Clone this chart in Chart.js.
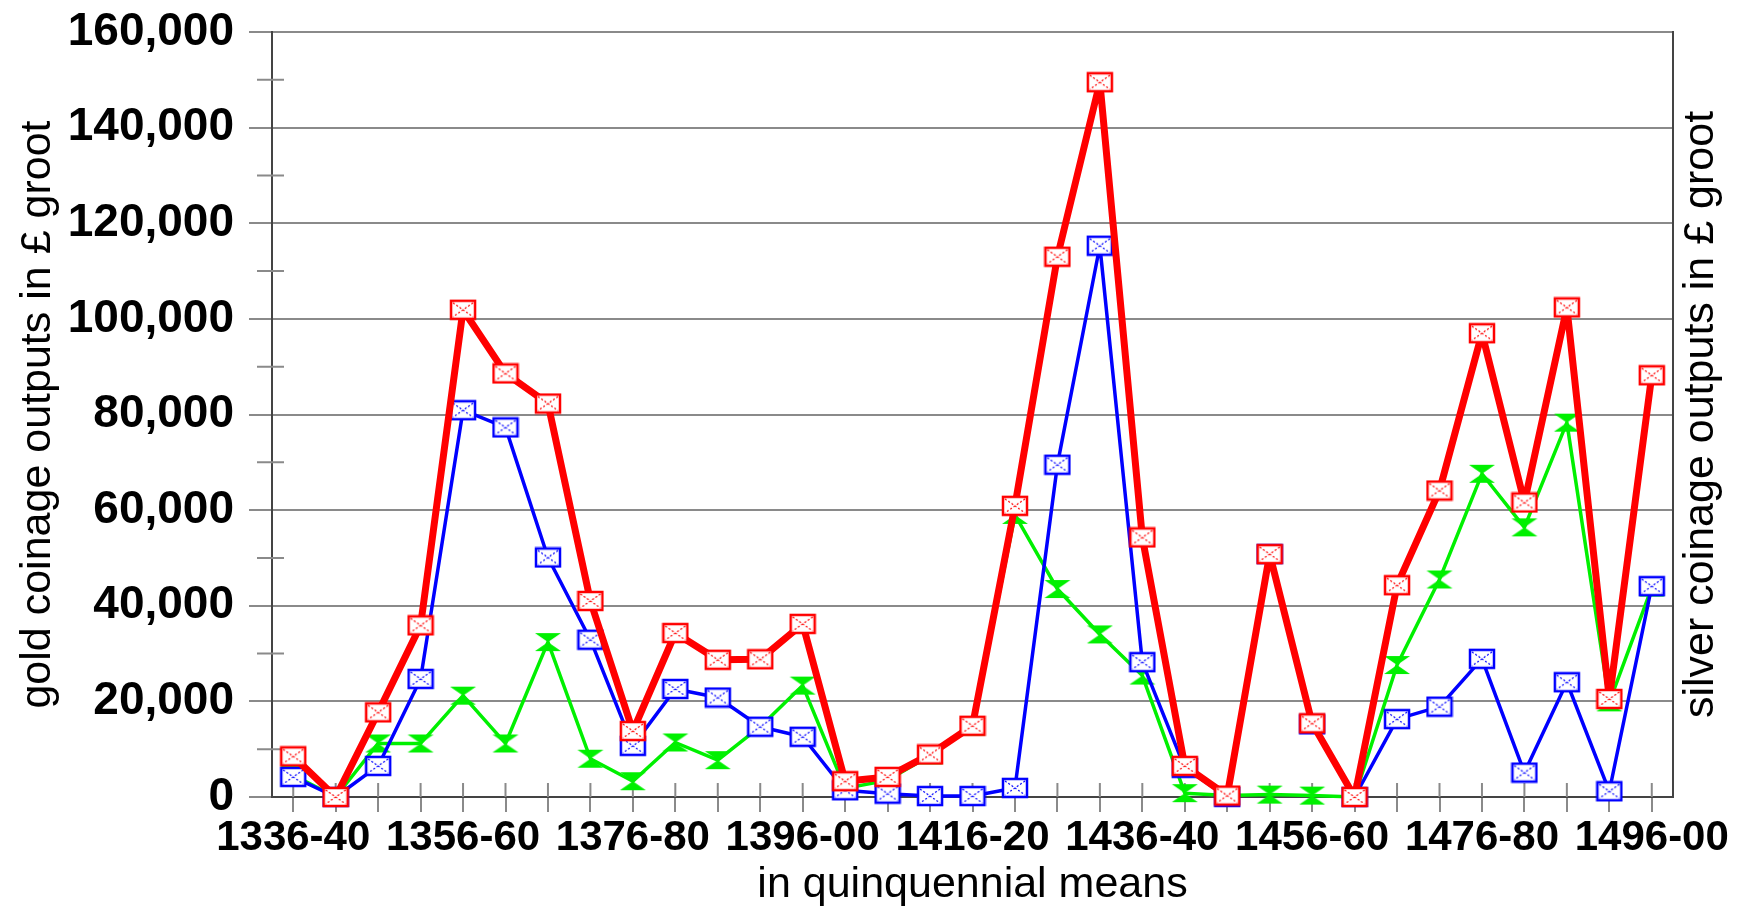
<!DOCTYPE html>
<html>
<head>
<meta charset="utf-8">
<script src="https://cdn.jsdelivr.net/npm/chart.js@4"></script>
<style>
  html, body { margin: 0; padding: 0; background: #fff; }
  #wrap { width: 1741px; height: 907px; position: relative; }
</style>
</head>
<body>
<div id="wrap"><canvas id="coinChart"></canvas></div>
<script>
// quinquennial periods
const periods = ['1336-40','1341-45','1346-50','1351-55','1356-60','1361-65','1366-70','1371-75',
  '1376-80','1381-85','1386-90','1391-95','1396-00','1401-05','1406-10','1411-15',
  '1416-20','1421-25','1426-30','1431-35','1436-40','1441-45','1446-50','1451-55',
  '1456-60','1461-65','1466-70','1471-75','1476-80','1481-85','1486-90','1491-95','1496-00'];

// total (red)
const totalOut = [8500, 0, 17700, 35900, 101900, 88600, 82300, 41000, 13800, 34300, 28700, 28800, 36200,
  3300, 4200, 8900, 14900, 60900, 113000, 149500, 54300, 6500, 300, 50800, 15400, 0,
  44300, 64100, 97000, 61600, 102400, 20500, 88200];
// gold (blue)
const goldOut = [4200, 0, 6500, 24700, 80900, 77300, 50100, 32900, 10700, 22600, 20800, 14700, 12600,
  1400, 700, 200, 200, 1900, 69500, 115300, 28200, 6100, 0, 50800, 15200, 0,
  16300, 18900, 28900, 5100, 24000, 1200, 44100];
// silver (green)
const silverOut = [4600, 0, 11200, 11200, 21200, 11200, 32400, 8000, 3300, 11400, 7700, 14700, 23300,
  1800, 3500, 8700, 14700, 59000, 43500, 34000, 25400, 800, 300, 500, 300, 0,
  27600, 45500, 67600, 56400, 78300, 19800, 43800];

const yTicks = [0, 20000, 40000, 60000, 80000, 100000, 120000, 140000, 160000];

const FONT = "'Liberation Sans', Arial, sans-serif";
const GRID = '#8a8a8a';
const AXIS = '#444';

// square-with-cross marker
function boxMarker(color) {
  const c = document.createElement('canvas');
  c.width = 28; c.height = 22;
  const g = c.getContext('2d');
  g.fillStyle = '#fff';
  g.fillRect(2, 2, 24, 18);
  g.strokeStyle = color;
  g.lineWidth = 2.5;
  g.strokeRect(2, 2, 24, 18);
  g.lineWidth = 1.2;
  g.setLineDash([2, 2]);
  g.beginPath();
  g.moveTo(4, 4); g.lineTo(24, 18);
  g.moveTo(24, 4); g.lineTo(4, 18);
  g.stroke();
  return c;
}

// hourglass marker
function hourglass(color) {
  const c = document.createElement('canvas');
  c.width = 28; c.height = 22;
  const g = c.getContext('2d');
  g.fillStyle = color;
  g.beginPath();
  g.moveTo(1, 2); g.lineTo(27, 2); g.lineTo(14, 11); g.closePath();
  g.moveTo(1, 20); g.lineTo(27, 20); g.lineTo(14, 11); g.closePath();
  g.fill();
  return c;
}

// extra tick marks that cross the axes + right-hand title
const decor = {
  id: 'decor',
  beforeDatasetsDraw(chart) {
    const {ctx, scales: {x, y}, chartArea} = chart;
    ctx.save();
    ctx.strokeStyle = GRID;
    ctx.lineWidth = 2;
    ctx.beginPath();
    for (let i = 0; i < periods.length; i++) {
      const px = x.getPixelForValue(i);
      ctx.moveTo(px, chartArea.bottom);
      ctx.lineTo(px, chartArea.bottom - 14);
    }
    for (let v = 10000; v < 160000; v += 20000) {
      const py = y.getPixelForValue(v);
      ctx.moveTo(chartArea.left - 15, py);
      ctx.lineTo(chartArea.left + 12, py);
    }
    ctx.stroke();
    ctx.restore();
  },
  afterDraw(chart) {
    const {ctx, chartArea} = chart;
    ctx.save();
    ctx.translate(1701, (chartArea.top + chartArea.bottom) / 2);
    ctx.rotate(-Math.PI / 2);
    ctx.fillStyle = '#000';
    ctx.font = '43px ' + FONT;
    ctx.textAlign = 'center';
    ctx.textBaseline = 'middle';
    ctx.fillText('silver coinage outputs in £ groot', 0, 0);
    ctx.restore();
  }
};

const ctx = document.getElementById('coinChart').getContext('2d');

const mychart = new Chart(ctx, {
  type: 'line',
  data: {
    labels: periods,
    datasets: [
      {
        label: 'total',
        data: totalOut,
        borderColor: '#ff0000',
        borderWidth: 7,
        pointStyle: boxMarker('#ff0000'),
        clip: false
      },
      {
        label: 'gold',
        data: goldOut,
        borderColor: '#0000ff',
        borderWidth: 3.5,
        pointStyle: boxMarker('#0000ff'),
        clip: false
      },
      {
        label: 'silver',
        data: silverOut,
        borderColor: '#00f000',
        borderWidth: 3.5,
        pointStyle: hourglass('#00f000'),
        clip: false
      }
    ]
  },
  options: {
    responsive: true,
    maintainAspectRatio: false,
    animation: false,
    layout: { padding: { top: 32, left: 0, right: 0, bottom: 0 } },
    elements: {
      line: { tension: 0, borderJoinStyle: 'round' },
      point: { radius: 10, hoverRadius: 10 }
    },
    plugins: { legend: { display: false }, tooltip: { enabled: false } },
    scales: {
      x: {
        offset: true,
        grid: { offset: false, drawOnChartArea: false, drawTicks: true, tickLength: 15, color: GRID, lineWidth: 2 },
        border: { display: true, color: AXIS, width: 2 },
        ticks: {
          autoSkip: false,
          maxRotation: 0,
          padding: 1,
          color: '#000',
          font: { family: FONT, size: 42, weight: 'bold' },
          callback: (v, i) => (i % 4 === 0 ? periods[i] : '')
        },
        title: {
          display: true,
          text: 'in quinquennial means',
          color: '#000',
          font: { family: FONT, size: 43, lineHeight: 1.0 },
          padding: { top: 0, bottom: 0 }
        },
        afterFit: s => { s.height = 110; }
      },
      y: {
        min: 0,
        max: 160000,
        afterBuildTicks: s => { s.ticks = yTicks.map(v => ({ value: v })); },
        ticks: {
          padding: 15,
          color: '#000',
          font: { family: FONT, size: 46, weight: 'bold', lineHeight: 0.4 },
          callback: v => v.toLocaleString('en-US')
        },
        grid: { color: GRID, lineWidth: 2, tickLength: 23 },
        border: { color: AXIS, width: 2 },
        title: {
          display: true,
          text: 'gold coinage outputs in £ groot',
          color: '#000',
          font: { family: FONT, size: 43 },
          padding: { top: 12, bottom: 0 }
        },
        afterFit: s => { s.width = 272; }
      },
      y1: {
        position: 'right',
        min: 0,
        max: 160000,
        ticks: { display: false },
        grid: { drawOnChartArea: false, drawTicks: false },
        border: { color: AXIS, width: 2 },
        afterFit: s => { s.width = 68; }
      }
    }
  },
  plugins: [decor]
});
</script>
</body>
</html>
